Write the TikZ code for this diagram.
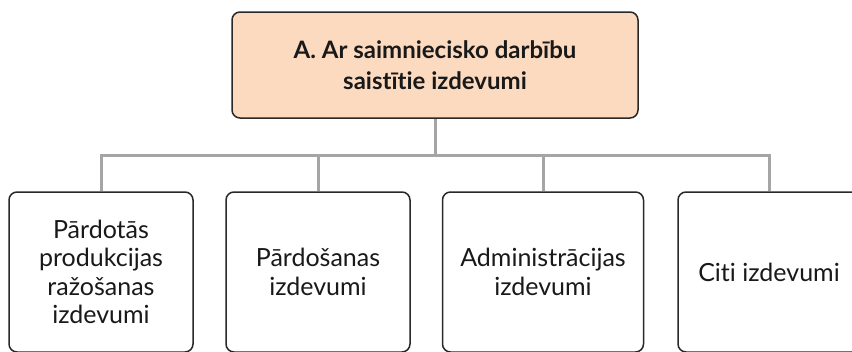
\documentclass[tikz,border=0pt]{standalone}
\usepackage{fontspec}
\setmainfont{Lato}[Ligatures={NoCommon,NoRare,NoContextual}]
\definecolor{peach}{RGB}{252,218,192}
\definecolor{edgegray}{RGB}{40,40,40}
\definecolor{linkgray}{RGB}{165,165,165}
\definecolor{ink}{RGB}{25,25,25}
\begin{document}
\begin{tikzpicture}[x=1pt,y=-1pt,
  box/.style={draw=edgegray, line width=1.5pt, rounded corners=8pt, align=center, inner sep=0pt, text=ink},
  headbox/.style={box, fill=peach, minimum width=406pt, minimum height=106pt, font=\bfseries\fontsize{24}{31}\selectfont},
  leafbox/.style={box, fill=white, minimum height=160pt, font=\fontsize{25}{28.5}\selectfont},
  linkline/.style={draw=linkgray, line width=3pt}]
\useasboundingbox (0,0) rectangle (852,351);
\clip (0,0) rectangle (852,351);
\node[headbox] (top) at (435,65) {A. Ar saimniecisko darbību\\saistītie izdevumi};
\node[leafbox, minimum width=184pt] (b1) at (101,272) {Pārdotās\\produkcijas\\ražošanas\\izdevumi};
\node[leafbox, minimum width=184pt] (b2) at (318,272) {Pārdošanas\\izdevumi};
\node[leafbox, minimum width=201pt] (b3) at (543,272) {Administrācijas\\izdevumi};
\node[leafbox, minimum width=182pt] (b4) at (769,272) {Citi izdevumi};
\coordinate (bus) at (435,155);
\draw[linkline] (top.south) -- (bus);
\draw[linkline] (b1.north) -- (b1.north |- bus) -- (b4.north |- bus) -- (b4.north);
\draw[linkline] (b2.north) -- (b2.north |- bus);
\draw[linkline] (b3.north) -- (b3.north |- bus);
\end{tikzpicture}
\end{document}
